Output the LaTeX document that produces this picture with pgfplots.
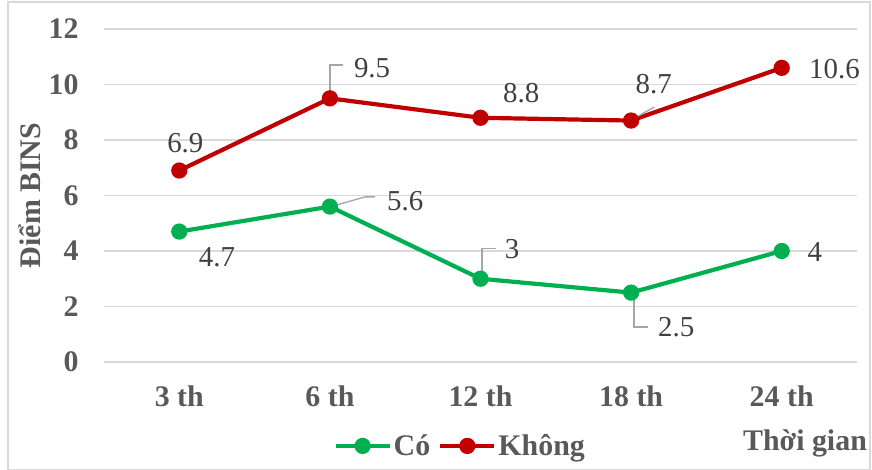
\documentclass[border=0pt]{standalone}
\usepackage{pgfplots}
\pgfplotsset{compat=1.18}
\usepackage{fontspec}
\setmainfont{Liberation Serif}
\definecolor{cgreen}{HTML}{00B050}
\definecolor{cred}{HTML}{C00000}
\definecolor{tickgray}{HTML}{595959}
\definecolor{lblgray}{HTML}{404040}
\definecolor{gridgray}{HTML}{D9D9D9}
\definecolor{leadgray}{HTML}{A6A6A6}
\begin{document}
\begin{tikzpicture}[x=1bp,y=1bp]
\useasboundingbox (0,0) rectangle (872,470);
\draw[gridgray, line width=1.2bp] (8,0.5) rectangle (870,468);
\begin{axis}[
  at={(104bp,108bp)}, anchor=south west,
  scale only axis, width=753bp, height=333bp,
  xmin=-0.5, xmax=4.5, ymin=0, ymax=12,
  xtick={0,1,2,3,4}, xticklabels={3 th,6 th,12 th,18 th,24 th},
  ytick={0,2,4,6,8,10,12},
  axis line style={draw=none},
  major tick length=0pt,
  ymajorgrids, grid style={gridgray, line width=1.2bp},
  tick label style={font=\fontsize{30}{33}\selectfont\bfseries, text=tickgray},
  /pgf/number format/assume math mode=true,
  yticklabel style={xshift=-22bp},
  xticklabel style={yshift=-20bp},
  ylabel={Điểm BINS},
  ylabel style={font=\fontsize{30}{33}\selectfont\bfseries, text=tickgray, at={(axis description cs:-0.0983,0.5)}, anchor=center},
  clip=false,
  legend columns=2,
  legend style={draw=none, fill=none, at={(0.473,-0.252)}, anchor=center,
     font=\fontsize{30}{33}\selectfont\bfseries, text=tickgray,
     /tikz/every even column/.append style={column sep=6bp},
     /tikz/every node/.append style={inner xsep=2bp}},
  legend image code/.code={\draw[#1, mark repeat=2, mark phase=2] plot coordinates {(0bp,0bp) (27bp,0bp) (54bp,0bp)};},
  every axis plot/.append style={line width=4.2bp, mark=*, mark size=6bp, mark options={solid}},
]
\addplot[color=cgreen] coordinates {(0,4.7) (1,5.6) (2,3) (3,2.5) (4,4)};
\addlegendentry{Có}
\addplot[color=cred] coordinates {(0,6.9) (1,9.5) (2,8.8) (3,8.7) (4,10.6)};
\addlegendentry{Không}
% leader lines
\draw[leadgray, line width=1.3bp] (axis cs:1,9.7) -- (axis cs:1,10.7) -- (axis cs:1.09,10.7);
\draw[leadgray, line width=1.3bp] (axis cs:3.01,8.75) -- (axis cs:3.155,9.19);
\draw[leadgray, line width=1.3bp] (axis cs:1.02,5.62) -- (axis cs:1.233,5.95) -- (axis cs:1.3,5.95);
\draw[leadgray, line width=1.3bp] (axis cs:2.01,3.15) -- (axis cs:2.01,4.1) -- (axis cs:2.1,4.1);
\draw[leadgray, line width=1.3bp] (axis cs:3.02,2.3) -- (axis cs:3.02,1.26) -- (axis cs:3.11,1.26);
% data labels
\begin{scope}[every node/.style={font=\fontsize{29}{32}\selectfont, text=lblgray, inner sep=0pt}]
\node at (axis cs:0.04,7.89) {6.9};
\node at (axis cs:1.28,10.6) {9.5};
\node at (axis cs:2.27,9.69) {8.8};
\node at (axis cs:3.15,10.02) {8.7};
\node at (axis cs:4.35,10.56) {10.6};
\node at (axis cs:0.25,3.77) {4.7};
\node at (axis cs:1.5,5.8) {5.6};
\node at (axis cs:2.21,4.07) {3};
\node at (axis cs:3.3,1.26) {2.5};
\node at (axis cs:4.22,3.96) {4};
\end{scope}
\end{axis}
\node[font=\fontsize{30}{33}\selectfont\bfseries, text=tickgray] at (805,27) {Thời gian};
\end{tikzpicture}
\end{document}
